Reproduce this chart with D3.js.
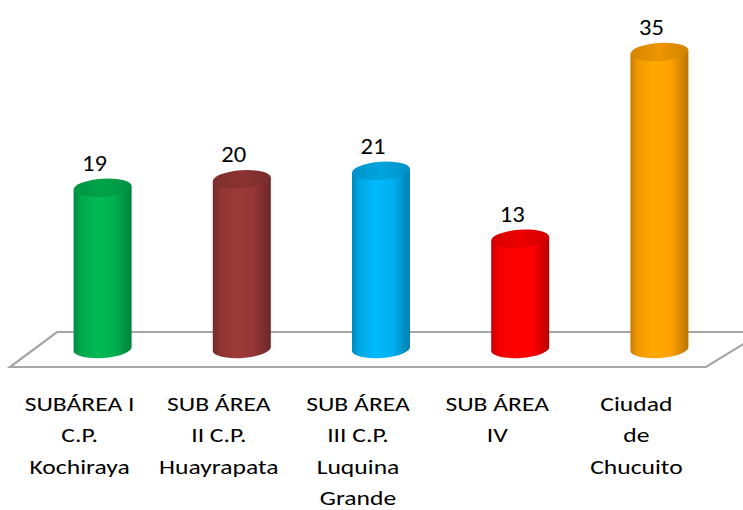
<!DOCTYPE html>
<html>
<head>
<meta charset="utf-8">
<script src="https://cdn.jsdelivr.net/npm/d3@7"></script>
<style>
  body { margin: 0; background: #fff; }
  svg { display: block; font-family: Carlito, Calibri, "Open Sans", sans-serif; }
</style>
</head>
<body>
<svg id="chart"></svg>
<script>
"use strict";

// ==========================
// data
// ==========================
var categories = [
  ["SUBÁREA I", "C.P.", "Kochiraya"],
  ["SUB ÁREA", "II C.P.", "Huayrapata"],
  ["SUB ÁREA", "III C.P.", "Luquina", "Grande"],
  ["SUB ÁREA", "IV"],
  ["Ciudad", "de", "Chucuito"]
];
var values = [19, 20, 21, 13, 35];
var colors = ["#00b050", "#953735", "#00b0f0", "#ff0000", "#ffa000"];

// ==========================
// setup
// ==========================
var width = 743, height = 510;
var svg = d3.select("#chart").attr("width", width).attr("height", height);
var defs = svg.append("defs");

var keys = categories.map(function (d, i) { return "c" + i; });
var x = d3.scaleBand().domain(keys).range([33, 729]).padding(0);
var y = d3.scaleLinear().domain([0, 35]).range([349, 52]);

var rx = 29, ry = 9, tilt = 2;
var stretch = 1.28; // the original text is drawn wide

// floor
var y0 = y(0);
var floor = [
  [x.range()[0] + 24, y0 - 17],
  [width + 20, y0 - 17],
  [706, y0 + 18],
  [10, y0 + 18]
];
svg.append("path")
  .attr("d", "M" + floor.join("L") + "Z")
  .attr("fill", "#fff")
  .attr("stroke", "#a6a6a6")
  .attr("stroke-width", 2.2);

// gradients
colors.forEach(function (c, i) {
  var g = defs.append("linearGradient").attr("id", "body" + i)
    .attr("x1", "0%").attr("x2", "100%").attr("y1", "0%").attr("y2", "0%");
  var base = d3.color(c);
  g.append("stop").attr("offset", "0%").attr("stop-color", base.darker(0.7));
  g.append("stop").attr("offset", "12%").attr("stop-color", base.darker(0.15));
  g.append("stop").attr("offset", "40%").attr("stop-color", base.brighter(0.15));
  g.append("stop").attr("offset", "70%").attr("stop-color", base);
  g.append("stop").attr("offset", "100%").attr("stop-color", base.darker(0.9));

  var t = defs.append("linearGradient").attr("id", "top" + i)
    .attr("x1", "0%").attr("x2", "100%").attr("y1", "0%").attr("y2", "0%");
  t.append("stop").attr("offset", "0%").attr("stop-color", base.darker(0.5));
  t.append("stop").attr("offset", "50%").attr("stop-color", base.darker(0.2));
  t.append("stop").attr("offset", "100%").attr("stop-color", base.darker(0.55));
});

// ==========================
// cylinders
// ==========================
var bars = svg.selectAll(".bar").data(values).enter().append("g").attr("class", "bar");

bars.append("path")
  .attr("fill", function (d, i) { return "url(#body" + i + ")"; })
  .attr("d", function (d, i) {
    var cx = x(keys[i]) + x.bandwidth() / 2,
        yt = y(d), yb = y(0);
    return "M" + (cx - rx) + "," + (yt + tilt) +
      "L" + (cx - rx) + "," + (yb + tilt) +
      "A" + rx + "," + ry + " -4 0 0 " + (cx + rx) + "," + (yb - tilt) +
      "L" + (cx + rx) + "," + (yt - tilt) + "Z";
  });

bars.append("ellipse")
  .attr("fill", function (d, i) { return "url(#top" + i + ")"; })
  .attr("rx", rx).attr("ry", ry)
  .attr("transform", function (d, i) {
    var cx = x(keys[i]) + x.bandwidth() / 2;
    return "translate(" + cx + "," + y(d) + ") rotate(-4)";
  });

// value labels
bars.append("text")
  .attr("transform", function (d, i) {
    var cx = x(keys[i]) + x.bandwidth() / 2 - 8;
    return "translate(" + cx + "," + (y(d) - 17) + ") scale(1.12,1)";
  })
  .attr("text-anchor", "middle")
  .attr("font-size", 22)
  .attr("fill", "#000")
  .text(function (d) { return d; });

// ==========================
// category labels
// ==========================
var labels = svg.selectAll(".cat").data(categories).enter().append("text")
  .attr("class", "cat")
  .attr("transform", function (d, i) {
    var cx = x(keys[i]) + x.bandwidth() / 2 - 23;
    return "translate(" + cx + ",0) scale(" + stretch + ",1)";
  })
  .attr("text-anchor", "middle")
  .attr("font-size", 20)
  .attr("fill", "#000");

labels.selectAll("tspan").data(function (d) { return d; })
  .enter().append("tspan")
  .attr("x", 0)
  .attr("y", function (d, j) { return 411 + j * 31.5; })
  .text(function (d) { return d; });
</script>
</body>
</html>
